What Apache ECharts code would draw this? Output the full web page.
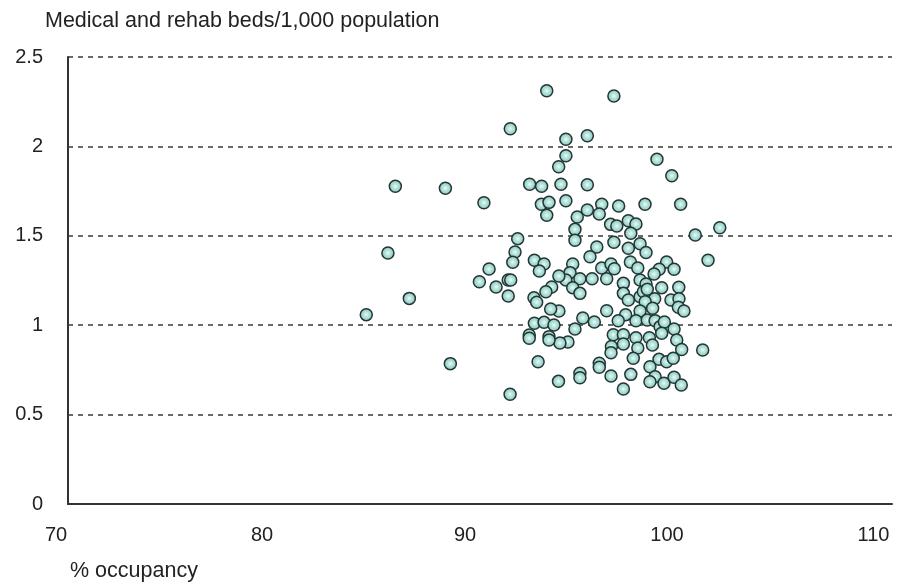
<!DOCTYPE html>
<html>
<head>
<meta charset="utf-8">
<script src="https://cdn.jsdelivr.net/npm/echarts@6/dist/echarts.min.js"></script>
<style>
html,body{margin:0;padding:0;background:#fff;}
#chart{width:907px;height:585px;}
</style>
</head>
<body>
<div id="chart"></div>
<script>
// % occupancy (x) and medical & rehab beds per 1,000 population (y)
var occupancy = [
93.24,91.47,94.17,94.17,93.82,85.89,88.32,92.41,92.99,93.93,90.19,92.98,93.35,94.17,93.24,94.72,94.61,94.61,91.83,91.70,85.53,
96.50,95.21,98.59,99.31,95.21,95.91,96.73,98.01,99.74,95.21,95.79,96.34,96.64,97.20,97.57,97.32,100.45,101.64,95.67,96.50,97.20,97.77,98.06,
95.34,94.50,101.07,99.06,98.70,99.42,97.30,97.66,95.91,96.36,96.52,98.45,94.37,94.17,93.83,94.85,95.44,96.15,96.96,97.77,98.06,94.50,94.85,96.96,97.20,97.77,97.93,98.12,98.48,98.82,98.02,99.27,99.65,99.66,99.63,99.90,98.38,97.77,96.15,93.83,94.99,95.55,94.61,97.07,96.71,97.57,98.12,98.50,98.74,98.95,99.42,96.47,96.96,97.57,98.22,98.82,99.55,94.27,93.88,96.38,96.96,97.66,98.37,99.79,100.81,
93.35,93.35,92.82,93.81,96.36,97.44,98.69,99.06,99.38,95.79,95.79,98.25,94.85,94.85,96.36,97.32,98.50,98.25,98.93,99.42,99.77,96.96,
91.59,90.44,89.97,90.78,91.37,91.49,91.37,92.64,93.11,92.88,93.48,93.20,92.62,92.75,93.43,92.64,93.11,93.59,92.39,92.39,91.46,
86.57,84.48,88.56
];
var beds = [
2.311,2.099,2.040,1.948,1.886,1.777,1.766,1.788,1.777,1.788,1.685,1.676,1.687,1.696,1.615,1.605,1.536,1.475,1.484,1.409,1.404,
2.282,2.060,1.928,1.836,1.786,1.676,1.667,1.676,1.676,1.644,1.622,1.564,1.555,1.584,1.566,1.514,1.504,1.545,1.437,1.464,1.430,1.456,1.407,
1.383,1.342,1.363,1.353,1.313,1.313,1.353,1.320,1.320,1.342,1.316,1.286,1.294,1.253,1.275,1.260,1.260,1.260,1.234,1.253,1.230,1.210,1.178,1.178,1.141,1.159,1.187,1.201,1.148,1.210,1.131,1.141,1.212,1.148,1.100,1.079,1.095,1.079,1.081,1.079,1.040,1.018,0.979,1.059,1.025,1.025,1.029,1.025,0.992,1.018,0.979,0.947,0.947,0.930,0.930,0.955,0.917,0.906,0.900,0.881,0.895,0.872,0.889,0.864,0.861,
0.936,0.917,0.796,0.686,0.846,0.815,0.809,0.796,0.815,0.787,0.765,0.768,0.731,0.706,0.716,0.725,0.712,0.684,0.675,0.709,0.666,0.643,
1.352,1.314,1.243,1.214,1.253,1.253,1.163,1.363,1.342,1.303,1.214,1.187,1.154,1.128,1.091,1.011,1.016,1.001,0.945,0.927,0.614,
1.150,1.059,0.785
];
var xTickLabels = ['70','80','90','100','110'];
var yTickLabels = ['0','0.5','1','1.5','2','2.5'];
var yTitle = 'Medical and rehab beds/1,000 population';
var xTitle = '% occupancy';

var points = occupancy.map(function (x, i) { return [x, beds[i]]; });

var FONT = '"Liberation Sans", Arial, Helvetica, sans-serif';
var xShift = {'70': 24, '80': 24, '90': 30, '100': 38, '110': 37};
var rich = {};
xTickLabels.forEach(function (t) {
  rich['t' + t] = {fontFamily: FONT, fontSize: 20, color: '#222', padding: [0, xShift[t], 0, 0]};
});

var chart = echarts.init(document.getElementById('chart'), null, {renderer: 'canvas'});
chart.setOption({
  animation: false,
  backgroundColor: '#fff',
  grid: {left: 68, right: 15, top: 57, bottom: 81, containLabel: false},
  xAxis: {
    type: 'value', min: 70, max: 110, interval: 10,
    axisLine: {show: true, onZero: false, lineStyle: {color: '#333', width: 2}},
    axisTick: {show: false},
    splitLine: {show: false},
    axisLabel: {
      margin: 21,
      formatter: function (v) {
        var s = String(v);
        return xTickLabels.indexOf(s) >= 0 ? '{t' + s + '|' + s + '}' : '';
      },
      rich: rich
    }
  },
  yAxis: {
    type: 'value', min: 0, max: 2.5, interval: 0.5,
    axisLine: {show: true, lineStyle: {color: '#333', width: 2}},
    axisTick: {show: false},
    splitLine: {show: true, lineStyle: {color: '#3a3a3a', width: 1.5, type: [5, 5]}},
    axisLabel: {
      margin: 25, fontFamily: FONT, fontSize: 20, color: '#222',
      formatter: function (v) {
        var s = String(Math.round(v * 10) / 10);
        return yTickLabels.indexOf(s) >= 0 ? s : '';
      }
    }
  },
  graphic: [
    {type: 'text', left: 45, top: 10, style: {text: yTitle, font: '21.5px ' + FONT, fill: '#222'}},
    {type: 'text', left: 70, top: 560, style: {text: xTitle, font: '21.5px ' + FONT, fill: '#222'}}
  ],
  series: [{
    type: 'scatter',
    data: points,
    symbol: 'circle',
    symbolSize: 12,
    itemStyle: {
      color: {
        type: 'radial', x: 0.5, y: 0.5, r: 0.55,
        colorStops: [
          {offset: 0, color: '#f2fbf9'},
          {offset: 0.3, color: '#bde6df'},
          {offset: 1, color: '#74c2b5'}
        ]
      },
      borderColor: '#263434',
      borderWidth: 1.5,
      opacity: 1
    }
  }]
});
</script>
</body>
</html>
